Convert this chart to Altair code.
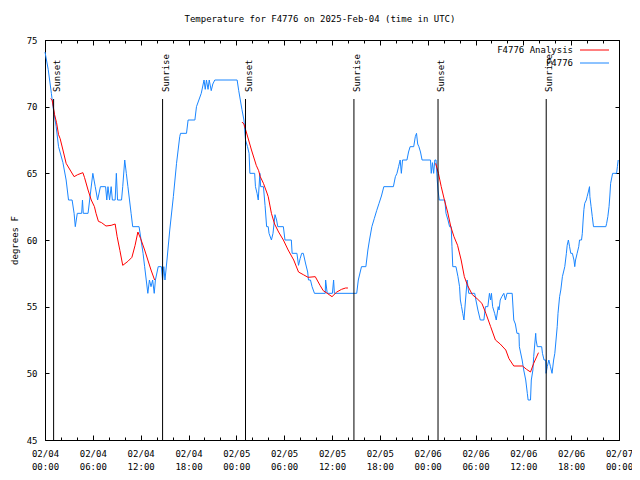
import altair as alt
import pandas as pd

START = pd.Timestamp("2025-02-04T00:00:00Z")
FONT = "DejaVu Sans Mono"

# observed temperatures (F4776), hours after 02/04 00:00 UTC
obs_hours = [0.0, 0.4, 0.8, 1.0, 1.4, 1.7, 2.25, 2.65, 2.95, 3.4, 3.65, 3.8, 4.05, 4.6, 4.7, 4.8,
             5.4, 5.6, 6.0, 6.3, 6.6, 6.95, 7.6, 7.75, 7.9, 8.1, 8.3, 8.45, 8.8, 8.95, 9.1, 9.6,
             9.75, 10.0, 10.2, 10.4, 10.6, 10.8, 11.0, 11.8, 12.05, 12.3, 12.5, 12.7, 12.9, 13.1,
             13.3, 13.5, 13.7, 13.85, 14.2, 14.6, 14.75, 14.9, 15.05, 15.3, 15.65, 16.1, 16.5,
             16.9, 17.0, 17.75, 17.95, 18.8, 19.0, 19.3, 19.6, 19.95, 20.1, 20.25, 20.45, 20.6,
             20.85, 21.05, 21.3, 24.1, 24.3, 24.7, 24.95, 25.15, 25.4, 25.6, 25.7, 26.3, 26.4,
             26.6, 26.75, 26.95, 27.05, 27.4, 27.6, 27.8, 28.0, 28.1, 28.4, 28.6, 28.85, 29.05,
             29.2, 29.9, 30.1, 30.9, 31.0, 31.6, 31.8, 32.0, 32.2, 32.4, 32.7, 32.95, 33.05,
             33.3, 33.5, 33.8, 35.15, 35.2, 35.4, 36.05, 36.2, 36.3, 39.1, 39.3, 39.7, 40.25,
             40.5, 40.7, 41.0, 41.3, 41.6, 41.9, 42.2, 42.5, 43.7, 43.95, 44.15, 44.35, 44.55,
             44.7, 44.85, 45.4, 45.6, 45.8, 46.25, 46.45, 46.6, 46.75, 46.9, 47.1, 47.3, 48.35,
             48.45, 48.6, 48.75, 48.9, 49.05, 49.2, 49.3, 49.45, 50.15, 50.3, 50.55, 50.75,
             50.95, 51.05, 51.15, 51.55, 51.8, 52.0, 52.1, 52.25, 52.4, 52.55, 52.75, 52.95,
             53.15, 53.9, 54.05, 54.3, 54.6, 55.05, 55.25, 55.55, 55.75, 55.9, 56.0, 56.15,
             56.4, 56.6, 56.85, 56.95, 57.1, 57.3, 57.55, 57.75, 57.95, 58.6, 58.8, 59.0, 59.2,
             59.45, 59.5, 59.85, 60.05, 60.3, 60.5, 60.6, 60.9, 61.0, 61.2, 61.3, 61.55, 61.6,
             61.75, 62.3, 62.4, 62.6, 62.8, 62.85, 63.0, 63.2, 63.4, 63.6, 63.8, 63.95, 64.1,
             64.25, 64.35, 64.55, 64.7, 64.9, 65.1, 65.2, 65.4, 65.5, 65.65, 65.8, 65.95, 66.15,
             66.35, 66.45, 66.55, 66.75, 66.95, 67.05, 67.3, 67.4, 67.5, 67.6, 67.7, 67.9, 68.0,
             68.15, 68.3, 68.35, 68.5, 68.65, 68.8, 70.35, 70.45, 70.6, 70.75, 70.85, 70.95,
             71.2, 71.7, 71.8, 71.9]
obs_temps = [74.1, 72.8, 71.0, 70.0, 68.5, 67.0, 65.8, 64.5, 63.0, 63.0, 62.0, 61.0, 62.0, 62.0, 63.0, 62.0,
             62.0, 63.0, 65.0, 64.0, 63.0, 64.0, 64.0, 63.0, 64.0, 63.0, 64.0, 63.0, 63.0, 65.0, 63.0, 63.0,
             64.0, 66.0, 65.0, 64.0, 63.0, 62.0, 61.0, 61.0, 60.0, 59.0, 58.0, 57.0, 56.0, 57.0,
             56.5, 57.0, 56.0, 57.0, 58.0, 58.0, 57.0, 58.0, 57.0, 58.5, 60.75, 63.25, 65.75,
             67.75, 68.0, 68.0, 69.0, 69.0, 70.0, 70.5, 71.0, 72.0, 71.3, 72.0, 71.3, 72.0,
             71.2, 71.7, 72.0, 72.0, 71.2, 69.8, 69.0, 67.5, 67.0, 66.5, 65.0, 65.0, 64.0,
             63.5, 63.0, 65.0, 64.0, 64.0, 62.6, 61.0, 61.0, 60.5, 60.0, 60.5, 61.9, 61.5,
             61.0, 61.0, 60.0, 60.0, 59.0, 59.0, 58.1, 58.6, 59.0, 59.0, 58.2, 57.6, 57.0,
             57.0, 56.5, 56.0, 56.0, 57.0, 56.0, 56.0, 57.0, 56.0, 56.0, 57.0, 58.0, 58.0,
             59.25, 60.0, 61.0, 61.6, 62.2, 62.75, 63.3, 64.0, 64.0, 64.75, 65.0, 65.5, 66.0,
             65.0, 66.0, 66.0, 66.6, 67.0, 67.0, 67.75, 68.0, 67.2, 67.0, 66.6, 66.0, 66.0,
             65.0, 65.8, 65.0, 66.0, 66.0, 64.5, 63.75, 63.0, 63.0, 62.0, 61.5, 61.0,
             61.0, 59.5, 58.0, 58.0, 57.25, 56.5, 55.5, 55.0, 54.5, 54.0, 55.5, 57.0,
             56.0, 56.0, 55.5, 54.75, 54.0, 54.0, 55.0, 55.0, 56.0, 55.5, 56.0, 55.0,
             54.5, 54.0, 55.0, 54.75, 55.5, 55.75, 56.0, 55.5, 56.0, 56.0, 54.0, 53.7, 53.0,
             53.0, 52.0, 51.0, 50.25, 49.5, 48.5, 48.0, 48.0, 49.5, 50.25, 51.25, 53.0, 52.5,
             52.0, 52.0, 51.5, 51.0, 51.0, 50.0, 50.5, 51.0, 50.5, 50.0, 51.0, 51.5, 52.5,
             53.5, 54.5, 55.75, 56.25, 57.25, 57.75, 58.0, 59.0, 59.6, 60.0, 59.5, 59.0, 59.0,
             58.5, 58.0, 58.5, 59.0, 59.5, 60.0, 60.0, 60.5, 61.5, 62.3, 62.75, 63.0, 63.25,
             63.6, 64.0, 63.25, 62.5, 61.75, 61.0, 61.0, 61.25, 61.75, 62.5, 63.3, 64.25,
             65.0, 65.0, 65.5, 66.0]

# analysis temperatures (F4776 Analysis), three nightly segments
ana_hours = [0.7, 0.9, 1.2, 1.45, 1.7, 1.9, 2.25, 2.65, 3.3, 3.65, 4.1, 4.75, 4.95, 5.4, 5.8, 6.2,
             6.4, 6.7, 7.1, 7.65, 8.3, 8.8, 9.05, 9.4, 9.75, 10.4, 10.9, 11.3, 11.65, 12.0, 12.5,
             12.9, 13.3, 13.75,
             24.7, 24.95, 25.25, 25.9, 26.5, 26.8, 27.0, 27.4, 27.8, 28.0, 28.4, 28.8, 29.3, 29.9,
             30.5, 31.2, 31.8, 32.4, 33.0, 33.9, 34.5, 34.9, 35.4, 36.0, 36.6, 37.2, 37.7, 38.0,
             49.0, 49.35, 49.7, 50.1, 50.5, 50.9, 51.3, 51.75, 52.2, 52.6, 53.0, 53.6, 54.2, 54.8,
             55.3, 55.9, 56.5, 57.1, 57.8, 58.2, 58.8, 59.9, 60.4, 60.9, 61.3, 61.9]
ana_temps = [70.6, 70.5, 69.4, 68.8, 67.9, 67.6, 66.75, 65.75, 65.1, 64.75, 64.9, 65.05, 64.7, 63.75, 63.0, 62.5,
             62.0, 61.4, 61.3, 61.05, 61.1, 61.2, 60.25, 59.2, 58.1, 58.4, 58.7, 59.6, 60.6, 60.1, 59.25,
             58.5, 57.75, 57.0,
             68.85, 68.7, 68.1, 66.75, 65.6, 65.2, 64.75, 64.25, 63.6, 63.25, 62.0, 61.2, 60.6, 60.0,
             59.25, 58.5, 57.6, 57.4, 57.2, 57.25, 56.6, 56.2, 56.0, 55.75, 56.1, 56.3, 56.4, 56.4,
             65.75, 65.0, 64.0, 63.0, 62.1, 61.0, 60.25, 59.6, 58.5, 57.25, 56.6, 55.9, 55.6, 55.25,
             54.5, 53.5, 52.5, 52.2, 51.75, 51.1, 50.55, 50.55, 50.3, 50.1, 50.75, 51.55]
ana_segments = [1] * 34 + [2] * 28 + [3] * 26

sun_hours = [1.08, 14.75, 25.15, 38.75, 49.3, 62.87]
sun_labels = ["Sunset", "Sunrise", "Sunset", "Sunrise", "Sunset", "Sunrise"]

series_names = ["F4776 Analysis", "F4776"]
series_colors = ["#ff0000", "#1a86ff"]
y_ticks = [45, 50, 55, 60, 65, 70, 75]
major_tick_hours = list(range(0, 73, 6))
minor_tick_hours = list(range(0, 73, 2))


def stamp(hours):
    return [(START + pd.Timedelta(hours=h)).strftime("%Y-%m-%dT%H:%M:%SZ") for h in hours]


def dt(h):
    t = START + pd.Timedelta(hours=h)
    return alt.DateTime(year=t.year, month=t.month, date=t.day, hours=t.hour, utc=True)


obs_df = pd.DataFrame({"time": stamp(obs_hours), "temp": obs_temps,
                       "series": series_names[1], "seg": 0})
ana_df = pd.DataFrame({"time": stamp(ana_hours), "temp": ana_temps,
                       "series": series_names[0], "seg": ana_segments})
sun_df = pd.DataFrame({"time": stamp(sun_hours), "label": sun_labels})
legend_df = pd.DataFrame({"series": series_names})

x_scale = alt.Scale(type="utc", domain=[dt(0), dt(72)])
y_scale = alt.Scale(domain=[45, 75], nice=False, zero=False)
color_scale = alt.Scale(domain=series_names, range=series_colors)
major_vals = [dt(h) for h in major_tick_hours]
minor_vals = [dt(h) for h in minor_tick_hours]


def tick_axis(orient, values, size):
    return alt.Axis(orient=orient, values=values, offset=-size, tickSize=size, ticks=True,
                    labels=False, domain=False, grid=False, title=None)


obs = alt.Chart(obs_df).mark_line(strokeWidth=1).encode(
    x=alt.X("time:T", scale=x_scale, title=None, axis=alt.Axis(
        orient="bottom", values=major_vals, offset=-5, tickSize=5, domain=False,
        labelExpr="[utcFormat(datum.value, '%m/%d'), utcFormat(datum.value, '%H:%M')]",
        labelPadding=9, labelLineHeight=13, labelFlush=False, labelOverlap=False)),
    y=alt.Y("temp:Q", scale=y_scale, title="degrees F", axis=alt.Axis(
        orient="left", values=y_ticks, offset=-4, tickSize=4, domain=False, labelPadding=8,
        titlePadding=7)),
    color=alt.Color("series:N", scale=color_scale, legend=None),
    detail="seg:N",
)

ana = alt.Chart(ana_df).mark_line(strokeWidth=1).encode(
    x=alt.X("time:T", scale=x_scale, title=None, axis=tick_axis("bottom", minor_vals, 3)),
    y=alt.Y("temp:Q", scale=y_scale, title=None, axis=tick_axis("right", y_ticks, 4)),
    color=alt.Color("series:N", scale=color_scale, legend=None),
    detail="seg:N",
)

rules = alt.Chart(sun_df).mark_rule(color="black", strokeWidth=1).encode(
    x=alt.X("time:T", scale=x_scale, title=None, axis=tick_axis("top", major_vals, 5)),
    y=alt.value(59),
    y2=alt.value(400),
)

labels = alt.Chart(sun_df).mark_text(angle=270, align="left", baseline="middle", dy=3,
                                      font=FONT, fontSize=9, color="black").encode(
    x=alt.X("time:T", scale=x_scale, title=None, axis=tick_axis("top", minor_vals, 3)),
    y=alt.value(52),
    text="label:N",
)

legend_y = alt.Y("series:N", axis=None,
                 scale=alt.Scale(type="point", domain=series_names, range=[10, 23], padding=0))
legend_text = alt.Chart(legend_df).mark_text(align="right", baseline="middle", font=FONT,
                                             fontSize=9, color="black").encode(
    x=alt.value(528), y=legend_y, text="series:N")
legend_line = alt.Chart(legend_df).mark_rule(strokeWidth=1).encode(
    x=alt.value(535), x2=alt.value(564), y=legend_y,
    color=alt.Color("series:N", scale=color_scale, legend=None))

chart = alt.layer(obs, ana, rules, labels, legend_text, legend_line).resolve_axis(
    x="independent", y="independent"
).resolve_scale(y="independent").properties(
    width=574, height=400, autosize="none",
    padding={"left": 37, "top": 32, "right": 13, "bottom": 32},
    title=alt.TitleParams("Temperature for F4776 on 2025-Feb-04 (time in UTC)", font=FONT,
                          fontSize=9, fontWeight="normal", color="black", anchor="middle",
                          offset=12, dx=-12),
).configure_axis(
    labelFont=FONT, labelFontSize=9, labelColor="black", titleFont=FONT, titleFontSize=9,
    titleFontWeight="normal", titleColor="black", tickColor="black", domainColor="black",
    grid=False,
).configure_view(stroke="black", strokeWidth=1)

chart.save("out.html", embed_options={"renderer": "svg", "actions": False})
